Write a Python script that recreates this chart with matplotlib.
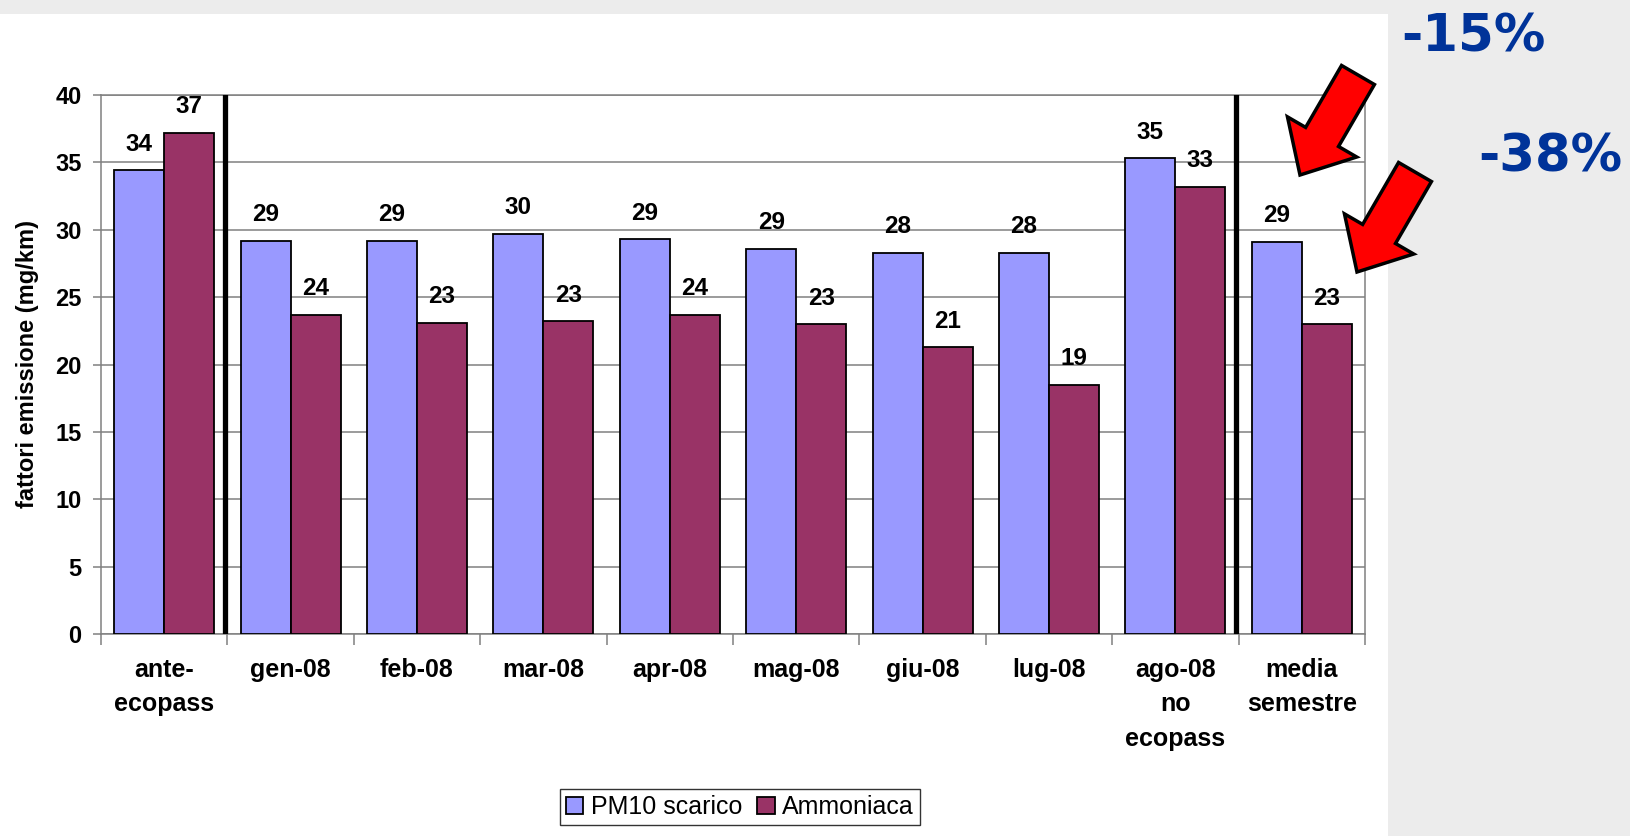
import matplotlib.pyplot as plt
from matplotlib.patches import Rectangle, FancyArrow
import numpy as np

# === Data ===
categories = ['ante-\necopass', 'gen-08', 'feb-08', 'mar-08', 'apr-08', 'mag-08',
              'giu-08', 'lug-08', 'ago-08\nno\necopass', 'media\nsemestre']
pm10 = [34.4, 29.2, 29.2, 29.7, 29.3, 28.6, 28.3, 28.3, 35.3, 29.1]
ammoniaca = [37.2, 23.7, 23.1, 23.2, 23.7, 23.0, 21.3, 18.5, 33.2, 23.0]
pm10_labels = ['34', '29', '29', '30', '29', '29', '28', '28', '35', '29']
amm_labels = ['37', '24', '23', '23', '24', '23', '21', '19', '33', '23']
y_ticks = [0, 5, 10, 15, 20, 25, 30, 35, 40]
separators = [0.48, 8.48]
reductions = ['-15%', '-38%']

W, H = 1630, 836
plt.rcParams['font.family'] = ['Liberation Sans', 'DejaVu Sans']
fig = plt.figure(figsize=(W / 100, H / 100), dpi=100, facecolor='#ECECEC')

# background: white slide area, gray panel on the right
bg = fig.add_axes([0, 0, 1, 1], zorder=-1)
bg.set_xlim(0, W)
bg.set_ylim(H, 0)
bg.axis('off')
bg.add_patch(Rectangle((0, 14), 1388, H - 14, facecolor='white', edgecolor='none'))

# === Main chart ===
ax = fig.add_axes([101 / W, 1 - 634 / H, (1365 - 101) / W, (634 - 95) / H], zorder=1)
ax.set_facecolor('white')
x = np.arange(len(categories))
bw = 0.395
ax.bar(x - bw / 2, pm10, bw, color='#9999FF', edgecolor='black', linewidth=1.3,
       label='PM10 scarico', zorder=3)
ax.bar(x + bw / 2, ammoniaca, bw, color='#993366', edgecolor='black', linewidth=1.3,
       label='Ammoniaca', zorder=3)

for xi, v, t in zip(x - bw / 2, pm10, pm10_labels):
    ax.annotate(t, (xi, v), xytext=(0, 14), textcoords='offset points',
                ha='center', va='baseline', fontsize=17.5, fontweight='bold', zorder=5)
for xi, v, t in zip(x + bw / 2, ammoniaca, amm_labels):
    ax.annotate(t, (xi, v), xytext=(0, 14), textcoords='offset points',
                ha='center', va='baseline', fontsize=17.5, fontweight='bold', zorder=5)

for s in separators:
    ax.axvline(s, color='black', linewidth=3.8, zorder=4)

ax.set_xlim(-0.5, len(categories) - 0.5)
ax.set_ylim(0, 40)
ax.set_yticks(y_ticks)
ax.set_yticklabels([str(v) for v in y_ticks], fontsize=17, fontweight='bold')
ax.yaxis.grid(True, color='#808080', linewidth=1.1, zorder=0)
ax.set_axisbelow(True)

ax.set_xticks(x)
ax.set_xticklabels(categories, fontsize=18, fontweight='bold', linespacing=1.55)
ax.set_xticks(np.arange(-0.5, len(categories)), minor=True)
ax.tick_params(axis='x', which='major', length=0, pad=17)
ax.tick_params(axis='x', which='minor', length=8, width=1.1, color='#808080', direction='out')
ax.tick_params(axis='y', length=6, width=1.1, color='#808080', pad=8)
for sp in ax.spines.values():
    sp.set_color('#808080')
    sp.set_linewidth(1.1)

ax.set_ylabel('fattori emissione (mg/km)', fontsize=17, fontweight='bold', labelpad=12)

leg = ax.legend(loc='center', bbox_to_anchor=(740 / W, 1 - 807 / H), bbox_transform=fig.transFigure,
                ncol=2, frameon=True, fancybox=False, edgecolor='black', fontsize=18,
                handlelength=0.7, handleheight=0.7, handletextpad=0.3, columnspacing=0.6,
                borderpad=0.25)
leg.get_frame().set_linewidth(1.0)

# === Arrows and percentages ===
ov = fig.add_axes([0, 0, 1, 1], zorder=2)
ov.set_xlim(0, W)
ov.set_ylim(H, 0)
ov.axis('off')
ov.patch.set_alpha(0)
for (tx, ty) in [(1358, 75), (1415, 172)]:
    ov.add_patch(FancyArrow(tx, ty, -58, 100, width=38, head_width=80, head_length=44,
                            length_includes_head=True, facecolor='#FF0000',
                            edgecolor='black', linewidth=2.5))
ov.text(1473, 37, reductions[0], color='#003399', fontsize=37, fontweight='bold',
        family='DejaVu Sans', ha='center', va='center')
ov.text(1550, 157, reductions[1], color='#003399', fontsize=37, fontweight='bold',
        family='DejaVu Sans', ha='center', va='center')

fig.savefig('out.png', dpi=100, facecolor=fig.get_facecolor())
